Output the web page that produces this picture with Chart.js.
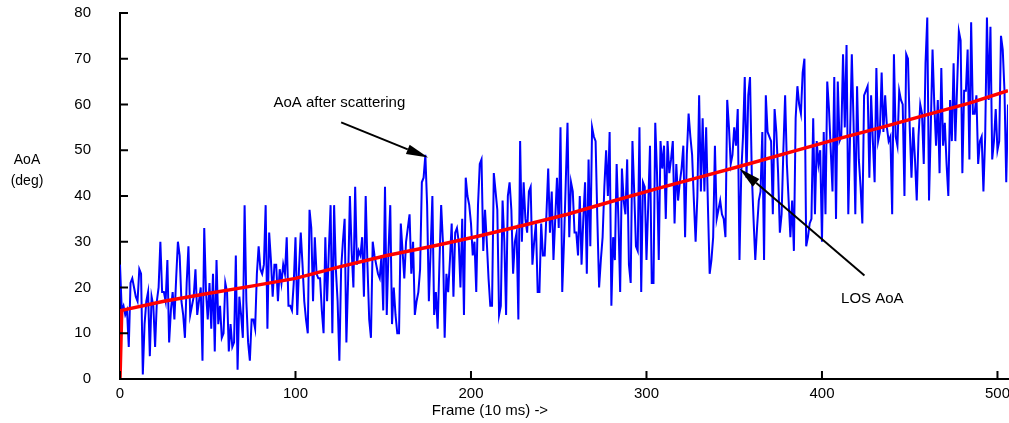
<!DOCTYPE html>
<html>
<head>
<meta charset="utf-8">
<script src="https://cdn.jsdelivr.net/npm/chart.js@4.4.1/dist/chart.umd.min.js"></script>
<style>
  html, body { margin: 0; padding: 0; background: #fff; }
  #wrap { width: 1009px; height: 423px; position: relative; }
</style>
</head>
<body>
<div id="wrap"><canvas id="aoaChart"></canvas></div>
<script>
const frameTicks = [0, 100, 200, 300, 400, 500];
const aoaTicks = [0, 10, 20, 30, 40, 50, 60, 70, 80];

// AoA after scattering, one value per frame (frame 0 .. 506)
const scatteredAoA = [
  25, 15, 16, 14, 15, 7, 21, 22, 20, 18, 17, 24, 23, 1, 12, 17, 19, 5, 18, 16,
  7, 17, 20, 30, 19, 19, 17, 26, 8, 15, 19, 13, 22, 30, 27, 17, 14, 9, 21, 29,
  14, 16, 18, 24, 14, 17, 20, 4, 33, 19, 13,
  21, 11, 23, 6, 26, 12, 16, 9, 10, 21, 19, 6, 12, 7, 8, 27, 2, 18, 14, 9,
  38, 17, 8, 4, 13, 13, 11, 23, 29, 24, 23, 25, 38, 11, 32, 26, 18, 25, 25, 17,
  24, 21, 25, 23, 31, 16, 16, 15, 21, 31,
  14, 24, 32, 25, 17, 13, 10, 37, 33, 17, 31, 23, 22, 22, 15, 10, 31, 17, 28, 38,
  10, 38, 24, 17, 4, 24, 30, 35, 8, 22, 40, 28, 20, 42, 25, 28, 27, 31, 18, 40,
  25, 13, 9, 30, 27, 25, 23, 22, 27, 15,
  42, 14, 28, 38, 12, 20, 14, 10, 10, 34, 28, 22, 30, 33, 36, 23, 30, 14, 17, 19,
  24, 43, 44, 49, 38, 17, 28, 40, 14, 19, 11, 25, 38, 30, 9, 23, 19, 26, 34, 18,
  32, 33, 30, 20, 35, 14, 44, 40, 38, 34, 27, 30, 19, 38, 47,
  48, 28, 37, 30, 22, 16, 16, 45, 41, 37, 14, 16, 39, 30, 14, 40, 43, 37, 23, 30,
  32, 13, 52, 30, 43, 35, 32, 41, 42, 25, 30, 34, 19, 19, 34, 27, 27, 36, 46, 32,
  41, 26, 35, 44, 33, 55, 19, 30, 43, 56, 31,
  43, 41, 32, 32, 27, 40, 25, 35, 43, 23, 48, 29, 55, 53, 52, 35, 20, 26, 31, 42,
  50, 40, 54, 16, 31, 26, 47, 35, 19, 46, 39, 36, 48, 25, 21, 52, 41, 29, 28, 55,
  19, 43, 42, 26, 38, 51, 21, 21, 56, 45, 26,
  52, 46, 51, 35, 52, 45, 48, 52, 34, 47, 39, 43, 46, 51, 31, 49, 58, 53, 49, 39,
  30, 40, 62, 41, 57, 41, 55, 38, 23, 26, 31, 51, 35, 37, 39, 36, 35, 31, 61, 55,
  47, 49, 55, 51, 59, 26, 45, 53, 66, 44, 62, 66,
  45, 35, 26, 33, 39, 41, 54, 26, 62, 54, 53, 52, 36, 59, 54, 45, 32, 36, 50, 62,
  47, 39, 31, 39, 28, 57, 64, 60, 58, 67, 70, 29, 31, 34, 35, 57, 36, 52, 47, 50,
  30, 54, 36, 65, 59, 50, 41, 66, 35, 65, 52,
  53, 71, 55, 73, 36, 53, 71, 56, 36, 64, 48, 42, 34, 62, 63, 64, 44, 62, 52, 43,
  68, 52, 54, 67, 54, 62, 55, 52, 53, 36, 71, 53, 51, 63, 61, 60, 40, 71, 70, 55,
  44, 55, 48, 39, 53, 60, 58, 47, 69, 79, 39,
  55, 72, 60, 51, 61, 45, 68, 51, 56, 47, 40, 61, 52, 69, 52, 64, 76, 74, 45, 63,
  63, 72, 48, 78, 58, 58, 62, 47, 52, 53, 41, 53, 79, 61, 77, 48, 52, 59, 50, 52,
  75, 72, 63, 43, 60
];

// line-of-sight AoA
const losFrames = [0, 1, 25, 50, 75, 100, 125, 152, 178, 204, 230, 255, 280, 306, 332, 358, 384, 409, 435, 460, 484, 506];
const losAoA = [0, 15, 17, 18.7, 20.3, 22, 24.5, 27, 29, 31.2, 33.6, 36, 38.8, 41.6, 44.3, 47, 49.8, 52.5, 55.1, 57.8, 60.3, 63];

const FONT = '"Liberation Sans", Arial, sans-serif';

// callouts: text centre, arrow tail and arrow tip in (frame, AoA) units
const notes = [
  { text: 'AoA after scattering', at: [125, 60.3], from: [126, 56.1], to: [175.6, 48.4] },
  { text: 'LOS AoA', at: [428.7, 17.5], from: [424.2, 22.6], to: [352.9, 46] }
];

const extras = {
  id: 'extras',
  afterDraw(chart) {
    const { ctx, chartArea: a, scales: { x, y } } = chart;
    ctx.save();

    // tick marks point into the plot
    ctx.strokeStyle = '#000';
    ctx.lineWidth = 2;
    ctx.beginPath();
    x.ticks.forEach(t => {
      const px = x.getPixelForValue(t.value);
      ctx.moveTo(px, a.bottom);
      ctx.lineTo(px, a.bottom - 8);
    });
    y.ticks.forEach(t => {
      const py = y.getPixelForValue(t.value);
      ctx.moveTo(a.left, py);
      ctx.lineTo(a.left + 8, py);
    });
    ctx.stroke();

    // axis titles
    ctx.fillStyle = '#000';
    ctx.textAlign = 'center';
    ctx.textBaseline = 'middle';
    ctx.font = '14px ' + FONT;
    ctx.fillText('AoA', 27, 160);
    ctx.fillText('(deg)', 27, 181);
    ctx.font = '15px ' + FONT;
    ctx.fillText('Frame (10 ms) ->', 490, 411);

    // callouts with arrows
    notes.forEach(n => {
      ctx.fillText(n.text, x.getPixelForValue(n.at[0]), y.getPixelForValue(n.at[1]));
      const x0 = x.getPixelForValue(n.from[0]), y0 = y.getPixelForValue(n.from[1]);
      const x1 = x.getPixelForValue(n.to[0]), y1 = y.getPixelForValue(n.to[1]);
      const ang = Math.atan2(y1 - y0, x1 - x0);
      const len = 22, half = 5;
      const bx = x1 - len * Math.cos(ang), by = y1 - len * Math.sin(ang);
      ctx.lineWidth = 2;
      ctx.beginPath();
      ctx.moveTo(x0, y0);
      ctx.lineTo(bx, by);
      ctx.stroke();
      ctx.beginPath();
      ctx.moveTo(x1, y1);
      ctx.lineTo(bx + half * Math.sin(ang), by - half * Math.cos(ang));
      ctx.lineTo(bx - half * Math.sin(ang), by + half * Math.cos(ang));
      ctx.closePath();
      ctx.fill();
    });
    ctx.restore();
  }
};

new Chart(document.getElementById('aoaChart'), {
  type: 'line',
  data: {
    datasets: [
      {
        label: 'LOS AoA',
        data: losFrames.map((f, i) => ({ x: f, y: losAoA[i] })),
        borderColor: '#ff0000',
        borderWidth: 3.5,
        pointRadius: 0,
        tension: 0,
        order: 1
      },
      {
        label: 'AoA after scattering',
        data: scatteredAoA.map((v, i) => ({ x: i, y: v })),
        borderColor: '#0000ff',
        borderWidth: 2,
        pointRadius: 0,
        tension: 0,
        order: 2
      }
    ]
  },
  options: {
    responsive: true,
    maintainAspectRatio: false,
    animation: false,
    devicePixelRatio: 1,
    layout: { padding: { top: 13, right: 1, left: 0, bottom: 0 } },
    plugins: { legend: { display: false }, tooltip: { enabled: false } },
    scales: {
      x: {
        type: 'linear',
        min: 0,
        max: 506,
        afterBuildTicks: s => { s.ticks = frameTicks.map(v => ({ value: v })); },
        afterFit: s => {
          s.height = 44;
          s.paddingLeft = 0; s.paddingRight = 0; s.paddingTop = 0; s.paddingBottom = 0;
        },
        grid: { display: false, drawTicks: false },
        border: { display: true, color: '#000', width: 2 },
        ticks: { color: '#000', padding: 6, maxRotation: 0, font: { family: FONT, size: 15 } }
      },
      y: {
        min: 0,
        max: 80,
        afterBuildTicks: s => { s.ticks = aoaTicks.map(v => ({ value: v })); },
        afterFit: s => {
          s.width = 120;
          s.paddingLeft = 0; s.paddingRight = 0; s.paddingTop = 0; s.paddingBottom = 0;
        },
        grid: { display: false, drawTicks: false },
        border: { display: true, color: '#000', width: 2 },
        ticks: { color: '#000', padding: 29, font: { family: FONT, size: 15 } }
      }
    }
  },
  plugins: [extras]
});
</script>
</body>
</html>
